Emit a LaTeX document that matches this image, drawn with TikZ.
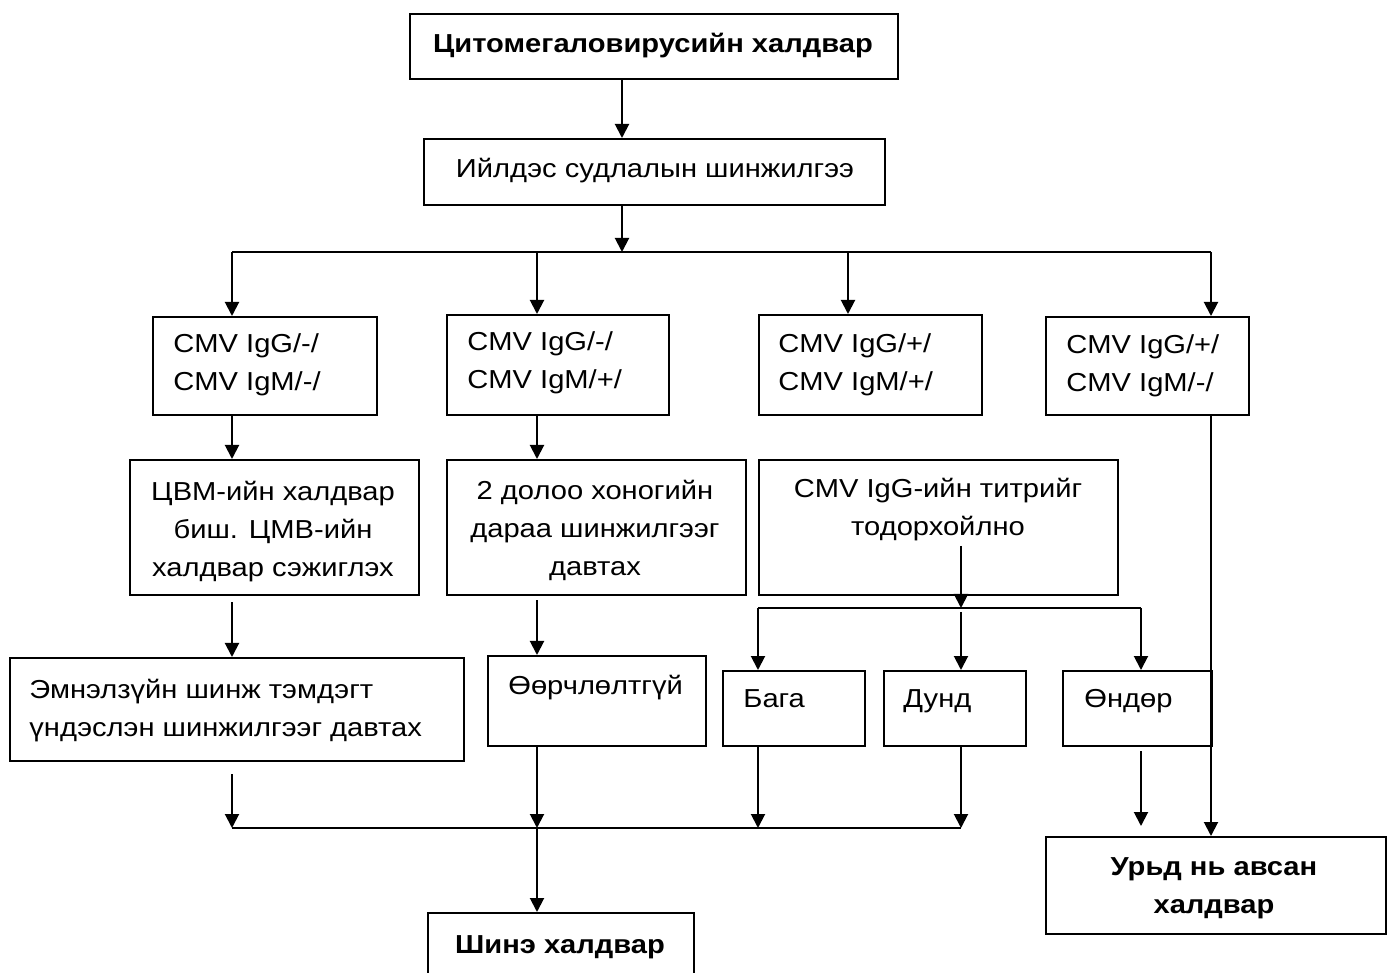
\documentclass[tikz,border=0pt]{standalone}
\usepackage{fontspec}
\setmainfont{Liberation Sans}[FakeStretch=1.12]
\usetikzlibrary{arrows.meta}
\begin{document}
\begin{tikzpicture}[x=0.5pt,y=-0.5pt,
  box/.style={draw, line width=1.1pt, inner sep=0pt, anchor=north west},
  txt/.style={inner sep=0pt, font=\fontsize{13}{19}\selectfont},
  btxt/.style={inner sep=0pt, font=\fontsize{13}{19}\selectfont\bfseries},
  conn/.style={line width=1pt},
  arr/.style={line width=1pt, -{Triangle[length=7pt,width=7pt]}}]
\useasboundingbox[fill=white] (0,0) rectangle (1389,973);
% column and row guides
\coordinate (colT) at (622,0);
\coordinate (colA) at (232,0);
\coordinate (colB) at (537,0);
\coordinate (colC) at (848,0);
\coordinate (colD) at (1211,0);
\coordinate (colL) at (758,0);
\coordinate (colM) at (961,0);
\coordinate (colH) at (1141,0);
\coordinate (hl1) at (0,252);
\coordinate (hl2) at (0,608);
\coordinate (hl3) at (0,828);
% boxes
\node[box, minimum width=244pt, minimum height=32.5pt] (t1) at (409,13) {};
\node[box, minimum width=230.5pt, minimum height=33pt] (t2) at (423,138) {};
\node[box, minimum width=112pt, minimum height=49pt] (bA) at (152,316) {};
\node[box, minimum width=111pt, minimum height=50pt] (bB) at (446,314) {};
\node[box, minimum width=111.5pt, minimum height=50pt] (bC) at (758,314) {};
\node[box, minimum width=101.5pt, minimum height=49pt] (bD) at (1045,316) {};
\node[box, minimum width=144.5pt, minimum height=67.5pt] (a2) at (129,459) {};
\node[box, minimum width=149.5pt, minimum height=67.5pt] (b2) at (446,459) {};
\node[box, minimum width=179.5pt, minimum height=67.5pt] (c2) at (758,459) {};
\node[box, minimum width=227pt, minimum height=51.5pt] (a3) at (9,657) {};
\node[box, minimum width=109pt, minimum height=45pt] (b3) at (487,655) {};
\node[box, minimum width=71pt, minimum height=37.5pt] (low) at (722,670) {};
\node[box, minimum width=71pt, minimum height=37.5pt] (mid) at (883,670) {};
\node[box, minimum width=74.5pt, minimum height=37.5pt] (high) at (1062,670) {};
\node[box, minimum width=133pt, minimum height=33pt] (new) at (427,912) {};
\node[box, minimum width=170pt, minimum height=48.5pt] (prev) at (1045,836) {};
% texts (base anchor = baseline of last line)
\node[btxt, anchor=base] (tt1) at (653,53) {Цитомегаловирусийн халдвар};
\node[txt, anchor=base] (tt2) at (655,178) {Ийлдэс судлалын шинжилгээ};
\node[txt, anchor=base west, align=left] (tbA) at (173,391) {CMV IgG/-/\\CMV IgM/-/};
\node[txt, anchor=base west, align=left] (tbB) at (467,389) {CMV IgG/-/\\CMV IgM/+/};
\node[txt, anchor=base west, align=left] (tbC) at (778,391) {CMV IgG/+/\\CMV IgM/+/};
\node[txt, anchor=base west, align=left] (tbD) at (1066,392) {CMV IgG/+/\\CMV IgM/-/};
\node[txt, anchor=base, align=center] (ta2) at (273,576) {ЦВМ-ийн халдвар\\биш. ЦМВ-ийн\\халдвар сэжиглэх};
\node[txt, anchor=base, align=center] (tb2) at (595,575) {2 долоо хоногийн\\дараа шинжилгээг\\давтах};
\node[txt, anchor=base, align=center] (tc2) at (938,536) {CMV IgG-ийн титрийг\\тодорхойлно};
\node[txt, anchor=base west, align=left] (ta3) at (29,736) {Эмнэлзүйн шинж тэмдэгт\\үндэслэн шинжилгээг давтах};
\node[txt, anchor=base west] (tb3) at (508,694) {Өөрчлөлтгүй};
\node[txt, anchor=base west] (tlow) at (743,707) {Бага};
\node[txt, anchor=base west] (tmid) at (903,707) {Дунд};
\node[txt, anchor=base west] (thigh) at (1084,707) {Өндөр};
\node[btxt, anchor=base] (tnew) at (560,953) {Шинэ халдвар};
\node[btxt, anchor=base, align=center] (tprev) at (1214,913) {Урьд нь авсан\\халдвар};
% connectors
\draw[arr] (t1.south -| colT) -- (t2.north -| colT);
\draw[arr] (t2.south -| colT) -- (colT |- hl1);
\draw[conn] (colA |- hl1) -- (colD |- hl1);
\draw[arr] (colA |- hl1) -- (bA.north -| colA);
\draw[arr] (colB |- hl1) -- (bB.north -| colB);
\draw[arr] (colC |- hl1) -- (bC.north -| colC);
\draw[arr] (colD |- hl1) -- (bD.north -| colD);
\draw[arr] (bA.south -| colA) -- (a2.north -| colA);
\draw[arr] (bB.south -| colB) -- (b2.north -| colB);
\draw[arr] ([yshift=-3pt]a2.south -| colA) -- (a3.north -| colA);
\draw[arr] ([yshift=-2pt]b2.south -| colB) -- (b3.north -| colB);
\draw[arr] ([yshift=-2pt]tc2.south -| colM) -- (colM |- hl2);
\draw[conn] (colL |- hl2) -- (colH |- hl2);
\draw[arr] (colL |- hl2) -- (low.north -| colL);
\draw[arr] ([yshift=-2pt]colM |- hl2) -- (mid.north -| colM);
\draw[arr] (colH |- hl2) -- (high.north -| colH);
\draw[arr] ([yshift=-6pt]a3.south -| colA) -- (colA |- hl3);
\draw[arr] (b3.south -| colB) -- (colB |- hl3);
\draw[arr] (low.south -| colL) -- (colL |- hl3);
\draw[arr] (mid.south -| colM) -- (colM |- hl3);
\draw[conn] (colA |- hl3) -- (colM |- hl3);
\draw[arr] (colB |- hl3) -- (new.north -| colB);
\draw[arr] ([yshift=-2pt]high.south -| colH) -- ([yshift=5pt]prev.north -| colH);
\draw[arr] (bD.south -| colD) -- (prev.north -| colD);
\end{tikzpicture}
\end{document}
